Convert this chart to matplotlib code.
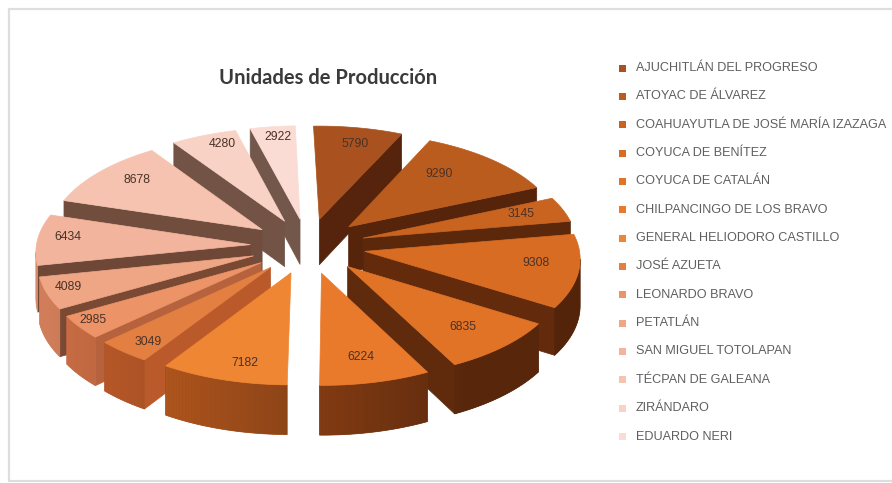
#!/usr/bin/env python3
import numpy as np
import matplotlib
matplotlib.use("Agg")
import matplotlib.pyplot as plt
from matplotlib.patches import Polygon, Rectangle

municipios = ["AJUCHITLÁN DEL PROGRESO", "ATOYAC DE ÁLVAREZ", "COAHUAYUTLA DE JOSÉ MARÍA IZAZAGA",
              "COYUCA DE BENÍTEZ", "COYUCA DE CATALÁN", "CHILPANCINGO DE LOS BRAVO",
              "GENERAL HELIODORO CASTILLO", "JOSÉ AZUETA", "LEONARDO BRAVO", "PETATLÁN",
              "SAN MIGUEL TOTOLAPAN", "TÉCPAN DE GALEANA", "ZIRÁNDARO", "EDUARDO NERI"]
unidades = [5790, 9290, 3145, 9308, 6835, 6224, 7182, 3049, 2985, 4089, 6434, 8678, 4280, 2922]

colores = ["#a9521f", "#bb5c1f", "#c96420", "#d86c22", "#e07326", "#ea7a2b", "#ee8633",
           "#e47f42", "#ec9468", "#efa685", "#f2b49c", "#f6c3b0", "#f8d2c5", "#fbdcd5"]
# darkening of the inner walls, the two low left slices catch more light
sombra_pared = [.5, .45, .45, .45, .42, .42, .42, .8, .75, .5, .45, .45, .45, .45]
# label shift in pixels from the default spot on the bisector
ajuste_etiqueta = [(3, 0), (-28, 3), (-6, -1), (-4, -5), (-11, -5), (-4, -5), (9, 3),
                   (-3, 6), (-20, 5), (-16, 1), (-8, -4), (9, -2), (5, -6), (1, -6)]

CX, CY = 308, 246
RX, RY = 214, 102
ALTO = 46
EXPLODE = 0.27
PERSP = 0.06
GIRO = -1.5  # degrees


def proyecta(theta, r, offset, z=0.0):
    # pie coords to pixels, theta clockwise from top
    x = r * np.sin(theta) + EXPLODE * np.sin(offset)
    y = r * np.cos(theta) + EXPLODE * np.cos(offset)
    s = 1 / (1 + PERSP * y)
    return np.column_stack([CX + RX * x * s, CY - RY * y * s + z * s])


def oscurece(color, f):
    r, g, b = matplotlib.colors.to_rgb(color)
    return (min(r * f * 1.02, 1), g * f * 0.88, b * f * 0.78)


fig = plt.figure(figsize=(8.92, 4.83), dpi=100)
ax = fig.add_axes([0, 0, 1, 1])
ax.set_xlim(0, 892)
ax.set_ylim(483, 0)
ax.axis("off")

ax.add_patch(Rectangle((9, 9), 900, 472, facecolor="white", edgecolor="#dedede", lw=1.6))

total = sum(unidades)
cortes = np.cumsum([0] + unidades) / total * 2 * np.pi + np.radians(GIRO)

rebanadas = []
for i, valor in enumerate(unidades):
    rebanadas.append((i, cortes[i], cortes[i + 1], (cortes[i] + cortes[i + 1]) / 2))
rebanadas.sort(key=lambda t: -np.cos(t[3]))

for i, t0, t1, tm in rebanadas:
    angulos = np.linspace(t0, t1, 40)
    arco = proyecta(angulos, 1.0, tm)
    apice = proyecta(np.array([t0]), 0.0, tm)
    arco_bajo = proyecta(angulos, 1.0, tm, ALTO)
    apice_bajo = proyecta(np.array([t0]), 0.0, tm, ALTO)
    centro = np.vstack([apice, arco]).mean(axis=0)

    for borde, borde_bajo in ((arco[0], arco_bajo[0]), (arco[-1], arco_bajo[-1])):
        d = borde - apice[0]
        interior = d[0] * (centro - apice[0])[1] - d[1] * (centro - apice[0])[0]
        # near-vertical edges read as edge-on, no wall drawn
        if interior * d[0] < 0 and abs(d[0]) > 12:
            col = oscurece(colores[i], sombra_pared[i])
            ax.add_patch(Polygon([apice[0], borde, borde_bajo, apice_bajo[0]],
                                 facecolor=col, edgecolor=col, lw=0.5))

    visibles = [j for j in range(len(angulos) - 1) if arco[j + 1][0] < arco[j][0]]
    if visibles:
        # solid base under the shaded strips hides the seams between them
        xn = np.sin(angulos[visibles]) + EXPLODE * np.sin(tm)
        tonos = np.clip(0.56 - 0.25 * xn, 0.38, 0.9)
        tramo = visibles + [visibles[-1] + 1]
        base = oscurece(colores[i], tonos.mean())
        ax.add_patch(Polygon(np.vstack([arco[tramo], arco_bajo[tramo][::-1]]),
                             facecolor=base, edgecolor=base, lw=0.5))
        for j, tono in zip(visibles, tonos):
            ax.add_patch(Polygon([arco[j], arco[j + 1], arco_bajo[j + 1], arco_bajo[j]],
                                 facecolor=oscurece(colores[i], tono), edgecolor="none", lw=0))

    ax.add_patch(Polygon(np.vstack([apice, arco]), facecolor=colores[i], edgecolor=colores[i], lw=0.5))

    etiqueta = proyecta(np.array([tm]), 0.82, tm)[0]
    dx, dy = ajuste_etiqueta[i]
    ax.text(etiqueta[0] + dx, etiqueta[1] + dy, str(unidades[i]), ha="center", va="center",
            fontsize=8.8, color="#4a3228", family="Liberation Sans", zorder=5)

ax.text(328, 78, "Unidades de Producción", ha="center", va="center", fontsize=14.5,
        fontweight="bold", color="#3a3a3a", family="Lato")

for i, nombre in enumerate(municipios):
    y = 68 + i * 28.35
    ax.add_patch(Rectangle((619, y - 3.5), 7, 7, facecolor=colores[i], edgecolor="none"))
    ax.text(636, y, nombre, ha="left", va="center", fontsize=9.1, color="#5f5f5f",
            family="Liberation Sans")

fig.savefig("out.png", dpi=100)
